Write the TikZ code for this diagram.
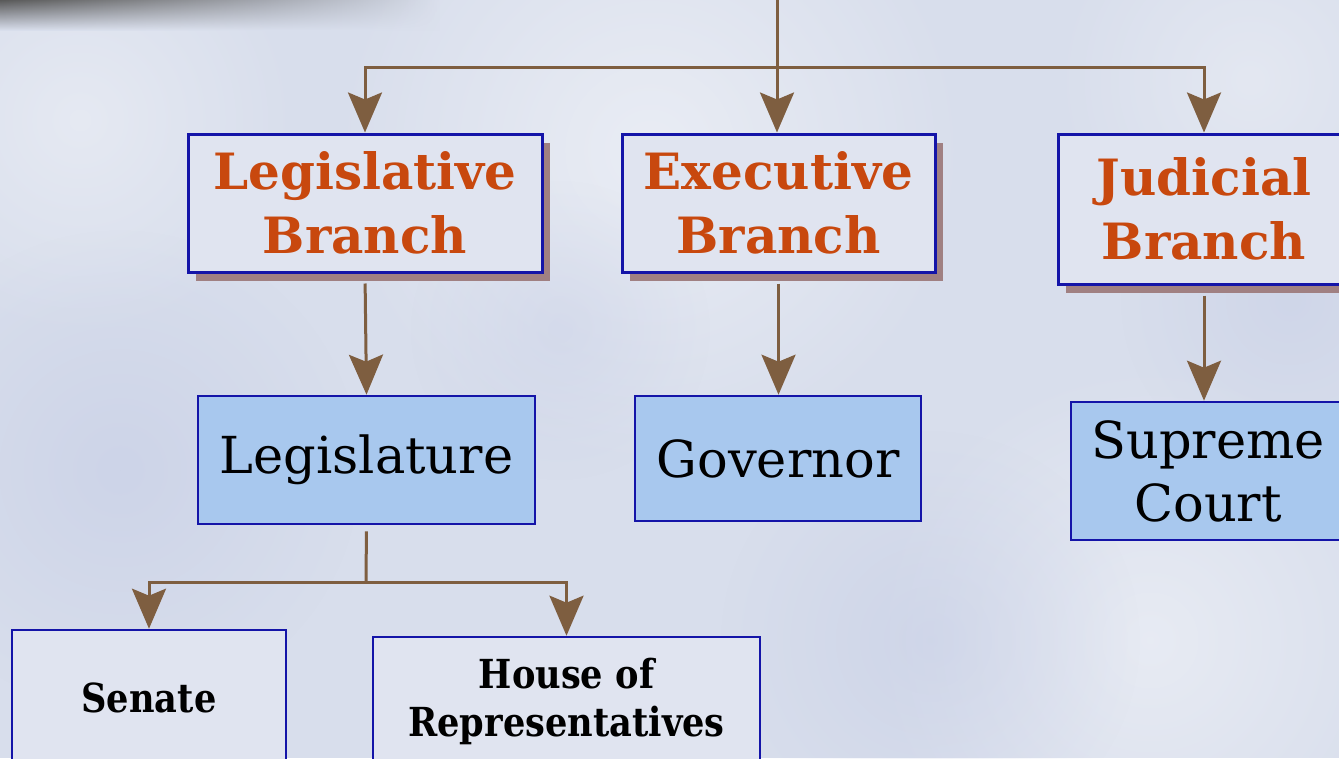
\documentclass[tikz,border=0pt]{standalone}
\usepackage{fontspec}
\setmainfont{DejaVu Serif}
\newfontfamily\condbold[FakeStretch=0.88]{DejaVu Serif Bold}
\usetikzlibrary{arrows.meta,fadings,shadows}
\definecolor{bgc}{HTML}{D8DEEC}
\definecolor{boxfill}{HTML}{E0E4F0}
\definecolor{bluefill}{HTML}{A8C8EE}
\definecolor{edgeblue}{HTML}{1414A8}
\definecolor{brownc}{HTML}{7E5E40}
\definecolor{shadowc}{HTML}{A08082}
\definecolor{orangec}{HTML}{C8480E}
\definecolor{cloudblue}{HTML}{C2CAE4}
\tikzfading[name=fadeRight, left color=transparent!0, right color=transparent!100]
\tikzfading[name=fuzzyC, inner color=transparent!0, outer color=transparent!100]
\tikzset{
  branchbox/.style={draw=edgeblue, line width=3pt, fill=boxfill, align=center,
     font=\fontsize{50}{64}\selectfont\bfseries, text=orangec, inner sep=0pt,
     drop shadow={shadow xshift=8pt, shadow yshift=-9pt, fill=shadowc, opacity=1}},
  officebox/.style={draw=edgeblue, line width=2.6pt, fill=bluefill, align=center,
     font=\fontsize{51}{63}\selectfont, text=black, inner sep=0pt},
  housebox/.style={draw=edgeblue, line width=2.6pt, fill=boxfill, align=center,
     font=\fontsize{40}{48}\condbold, text=black, inner sep=0pt},
  conn/.style={draw=brownc, line width=3pt},
  arr/.style={conn, -{Stealth[length=40pt, width=34pt, inset=7pt]}},
  cloud/.style={path fading=fuzzyC}
}
\begin{document}
\begin{tikzpicture}[x=1pt, y=-1pt]
\useasboundingbox (0,0) rectangle (1339,758);
\clip (0,0) rectangle (1339,758);
% background
\fill[bgc] (0,0) rectangle (1339,758);
\fill[white, opacity=0.45, cloud] (650,150) circle (320);
\fill[white, opacity=0.4, cloud] (1150,640) circle (280);
\fill[white, opacity=0.35, cloud] (80,120) circle (220);
\fill[white, opacity=0.3, cloud] (1250,80) circle (200);
\fill[cloudblue, opacity=0.5, cloud] (120,470) circle (240);
\fill[cloudblue, opacity=0.45, cloud] (930,640) circle (210);
\fill[cloudblue, opacity=0.4, cloud] (1290,300) circle (170);
\fill[cloudblue, opacity=0.35, cloud] (560,330) circle (150);
\shade[top color=gray!70!black, bottom color=bgc, path fading=fadeRight] (0,0) rectangle (440,30);

% nodes
\node[branchbox, minimum width=354pt, minimum height=138pt] (legb) at (365,203) {Legislative\\Branch};
\node[branchbox, minimum width=313pt, minimum height=138pt] (exeb) at (778.5,203) {Executive\\Branch};
\node[branchbox, minimum width=292pt, minimum height=150pt] (judb) at (1204,209) {Judicial\\Branch};

\node[officebox, minimum width=337pt, minimum height=128pt] (legis) at (366.5,460) {Legislature};
\node[officebox, minimum width=286pt, minimum height=125pt] (gov) at (778,458.5) {Governor};
\node[officebox, minimum width=274pt, minimum height=138pt] (sup) at (1208,471) {Supreme\\Court};

\node[housebox, minimum width=274pt, minimum height=135pt] (senate) at (149,697.5) {Senate};
\node[housebox, minimum width=387pt, minimum height=128pt] (house) at (566.5,701) {House of\\Representatives};

% connectors
\coordinate (top) at (777,0);
\coordinate (split) at (777,67);
\draw[arr] (top) -- (exeb.north -| top);
\draw[arr] (split) -| (legb.north);
\draw[arr] (split) -| (judb.north);

\draw[arr, shorten <=10pt] (legb.south) -- (legis.north);
\draw[arr, shorten <=10pt] (exeb.south) -- (exeb.south |- gov.north);
\draw[arr, shorten <=10pt] (judb.south) -- (judb.south |- sup.north);

\coordinate (lsplit) at (366,582);
\draw[conn, shorten <=6pt] (legis.south) -- (lsplit);
\draw[arr] (lsplit) -| (senate.north);
\draw[arr] (lsplit) -| (house.north);
\end{tikzpicture}
\end{document}
